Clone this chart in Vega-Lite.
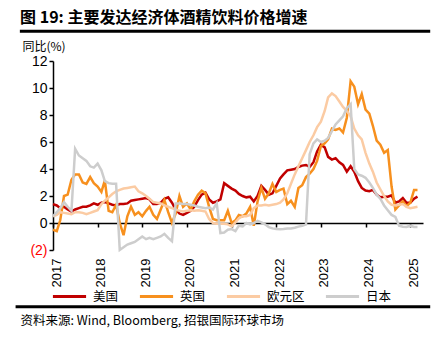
{
  "$schema": "https://vega.github.io/schema/vega-lite/v6.json",
  "width": 370,
  "height": 189,
  "autosize": {"type": "none"},
  "padding": {"left": 53, "top": 61, "right": 15, "bottom": 94},
  "background": "white",
  "title": {"text": "图 19: 主要发达经济体酒精饮料价格增速", "anchor": "start", "font": "Noto Sans CJK SC", "fontSize": 16, "fontWeight": "bold", "color": "black", "offset": 4, "dx": 6},
  "config": {"view": {"stroke": null}, "font": "Liberation Sans", "axis": {"labelOverlap": false}, "axisY": {"labelOverlap": false}},
  "layer": [
    {
      "data": {"values": [{}]},
      "mark": {"type": "rule", "clip": false, "color": "black", "strokeWidth": 3},
      "encoding": {
        "x": {"datum": {"year": 2016, "month": 4, "date": 5}, "type": "temporal"},
        "x2": {"datum": {"year": 2025, "month": 6, "date": 13}},
        "y": {"datum": 14.2, "type": "quantitative"}
      }
    },
    {
      "data": {"values": [{}]},
      "mark": {"type": "rule", "clip": false, "color": "black", "strokeWidth": 3},
      "encoding": {
        "x": {"datum": {"year": 2016, "month": 3, "date": 1}, "type": "temporal"},
        "x2": {"datum": {"year": 2025, "month": 6, "date": 13}},
        "y": {"datum": -6.2, "type": "quantitative"}
      }
    },
    {
      "data": {"values": [
        {"d":"2017-01-01","美国":1.4,"英国":-0.5,"欧元区":0.5,"日本":0.5},
        {"d":"2017-02-01","美国":1.3,"英国":-0.6,"欧元区":0.6,"日本":0.8},
        {"d":"2017-03-01","美国":1.1,"英国":0.2,"欧元区":0.8,"日本":1.1},
        {"d":"2017-04-01","美国":1.2,"英国":2.0,"欧元区":0.75,"日本":1.55},
        {"d":"2017-05-01","美国":1.0,"英国":2.1,"欧元区":0.7,"日本":1.2},
        {"d":"2017-06-01","美国":0.85,"英国":3.2,"欧元区":0.65,"日本":0.9},
        {"d":"2017-07-01","美国":1.0,"英国":3.6,"欧元区":0.8,"日本":5.5},
        {"d":"2017-08-01","美国":1.1,"英国":3.6,"欧元区":0.8,"日本":5.0},
        {"d":"2017-09-01","美国":1.2,"英国":3.0,"欧元区":0.75,"日本":4.8},
        {"d":"2017-10-01","美国":1.2,"英国":2.9,"欧元区":0.65,"日本":4.6},
        {"d":"2017-11-01","美国":1.3,"英国":3.4,"欧元区":0.75,"日本":4.2},
        {"d":"2017-12-01","美国":1.45,"英国":2.95,"欧元区":0.85,"日本":4.1},
        {"d":"2018-01-01","美国":1.35,"英国":2.7,"欧元区":0.95,"日本":4.4},
        {"d":"2018-02-01","美国":1.5,"英国":2.3,"欧元区":1.4,"日本":3.9},
        {"d":"2018-03-01","美国":1.55,"英国":3.15,"欧元区":1.65,"日本":3.1},
        {"d":"2018-04-01","美国":1.45,"英国":0.9,"欧元区":1.9,"日本":2.95},
        {"d":"2018-05-01","美国":1.35,"英国":0.8,"欧元区":2.15,"日本":2.9},
        {"d":"2018-06-01","美国":1.3,"英国":1.35,"欧元区":2.35,"日本":2.9},
        {"d":"2018-07-01","美国":1.4,"英国":0.0,"欧元区":2.45,"日本":-2.0},
        {"d":"2018-08-01","美国":1.4,"英国":-0.9,"欧元区":2.55,"日本":-1.8},
        {"d":"2018-09-01","美国":1.45,"英国":0.5,"欧元区":2.6,"日本":-1.6},
        {"d":"2018-10-01","美国":1.65,"英国":1.2,"欧元区":2.65,"日本":-1.5},
        {"d":"2018-11-01","美国":1.7,"英国":0.6,"欧元区":2.7,"日本":-1.4},
        {"d":"2018-12-01","美国":1.75,"英国":0.8,"欧元区":2.35,"日本":-1.2},
        {"d":"2019-01-01","美国":1.8,"英国":0.5,"欧元区":2.2,"日本":-1.0},
        {"d":"2019-02-01","美国":1.85,"英国":0.9,"欧元区":2.0,"日本":-1.2},
        {"d":"2019-03-01","美国":1.75,"英国":1.2,"欧元区":1.8,"日本":-1.1},
        {"d":"2019-04-01","美国":1.4,"英国":0.6,"欧元区":1.55,"日本":-1.2},
        {"d":"2019-05-01","美国":1.4,"英国":0.3,"欧元区":1.5,"日本":-1.1},
        {"d":"2019-06-01","美国":1.5,"英国":1.0,"欧元区":1.45,"日本":-1.0},
        {"d":"2019-07-01","美国":1.8,"英国":1.7,"欧元区":1.3,"日本":-0.8},
        {"d":"2019-08-01","美国":1.9,"英国":0.8,"欧元区":1.2,"日本":-1.1},
        {"d":"2019-09-01","美国":1.5,"英国":0.0,"欧元区":1.1,"日本":-1.35},
        {"d":"2019-10-01","美国":1.0,"英国":0.7,"欧元区":1.0,"日本":1.45},
        {"d":"2019-11-01","美国":0.7,"英国":2.0,"欧元区":0.9,"日本":1.45},
        {"d":"2019-12-01","美国":0.6,"英国":1.2,"欧元区":0.85,"日本":1.4},
        {"d":"2020-01-01","美国":0.75,"英国":1.45,"欧元区":0.9,"日本":1.4},
        {"d":"2020-02-01","美国":0.9,"英国":1.0,"欧元区":0.95,"日本":1.35},
        {"d":"2020-03-01","美国":1.2,"英国":1.6,"欧元区":0.9,"日本":1.3},
        {"d":"2020-04-01","美国":1.7,"英国":2.1,"欧元区":0.95,"日本":1.2},
        {"d":"2020-05-01","美国":2.1,"英国":2.4,"欧元区":0.9,"日本":1.15},
        {"d":"2020-06-01","美国":2.25,"英国":2.2,"欧元区":0.85,"日本":1.1},
        {"d":"2020-07-01","美国":1.75,"英国":1.2,"欧元区":0.3,"日本":1.15},
        {"d":"2020-08-01","美国":1.5,"英国":0.3,"欧元区":0.0,"日本":1.0},
        {"d":"2020-09-01","美国":1.6,"英国":0.2,"欧元区":-0.05,"日本":1.45},
        {"d":"2020-10-01","美国":1.75,"英国":0.2,"欧元区":-0.05,"日本":-0.75},
        {"d":"2020-11-01","美国":2.95,"英国":0.2,"欧元区":-0.05,"日本":-0.7},
        {"d":"2020-12-01","美国":2.75,"英国":0.9,"欧元区":-0.1,"日本":-0.5},
        {"d":"2021-01-01","美国":2.55,"英国":0.0,"欧元区":-0.25,"日本":-0.45},
        {"d":"2021-02-01","美国":2.4,"英国":0.2,"欧元区":0.05,"日本":-0.6},
        {"d":"2021-03-01","美国":2.15,"英国":0.6,"欧元区":0.35,"日本":-0.2},
        {"d":"2021-04-01","美国":2.0,"英国":0.5,"欧元区":0.5,"日本":-0.25},
        {"d":"2021-05-01","美国":1.9,"英国":0.7,"欧元区":0.5,"日本":0.0},
        {"d":"2021-06-01","美国":1.95,"英国":1.2,"欧元区":0.6,"日本":-0.1},
        {"d":"2021-07-01","美国":1.6,"英国":-0.2,"欧元区":1.1,"日本":0.0},
        {"d":"2021-08-01","美国":2.0,"英国":1.6,"欧元区":1.3,"日本":0.15},
        {"d":"2021-09-01","美国":2.75,"英国":2.6,"欧元区":1.3,"日本":0.05},
        {"d":"2021-10-01","美国":2.45,"英国":1.8,"欧元区":1.35,"日本":-0.1},
        {"d":"2021-11-01","美国":2.1,"英国":2.2,"欧元区":1.3,"日本":-0.3},
        {"d":"2021-12-01","美国":2.2,"英国":2.9,"欧元区":1.35,"日本":-0.4},
        {"d":"2022-01-01","美国":2.75,"英国":2.3,"欧元区":1.4,"日本":-0.45},
        {"d":"2022-02-01","美国":3.3,"英国":2.45,"欧元区":1.5,"日本":-0.47},
        {"d":"2022-03-01","美国":3.6,"英国":2.55,"欧元区":1.75,"日本":-0.45},
        {"d":"2022-04-01","美国":3.9,"英国":1.4,"欧元区":2.2,"日本":-0.4},
        {"d":"2022-05-01","美国":3.95,"英国":1.65,"欧元区":2.9,"日本":-0.4},
        {"d":"2022-06-01","美国":4.0,"英国":1.2,"欧元区":3.6,"日本":-0.35},
        {"d":"2022-07-01","美国":4.15,"英国":2.6,"欧元区":4.2,"日本":-0.27},
        {"d":"2022-08-01","美国":4.25,"英国":2.8,"欧元区":4.8,"日本":-0.2},
        {"d":"2022-09-01","美国":4.3,"英国":3.4,"欧元区":5.4,"日本":-0.1},
        {"d":"2022-10-01","美国":4.15,"英国":3.65,"欧元区":6.0,"日本":5.1},
        {"d":"2022-11-01","美国":4.5,"英国":4.0,"欧元区":6.5,"日本":5.9},
        {"d":"2022-12-01","美国":5.3,"英国":4.6,"欧元区":7.1,"日本":6.2},
        {"d":"2023-01-01","美国":5.8,"英国":5.7,"欧元区":7.5,"日本":6.0},
        {"d":"2023-02-01","美国":5.6,"英国":5.9,"欧元区":8.3,"日本":6.1},
        {"d":"2023-03-01","美国":4.9,"英国":6.2,"欧元区":9.3,"日本":6.3},
        {"d":"2023-04-01","美国":4.7,"英国":7.0,"欧元区":9.6,"日本":6.8},
        {"d":"2023-05-01","美国":4.8,"英国":6.9,"欧元区":9.4,"日本":7.3},
        {"d":"2023-06-01","美国":4.5,"英国":7.0,"欧元区":9.0,"日本":7.6},
        {"d":"2023-07-01","美国":4.3,"英国":6.7,"欧元区":8.6,"日本":7.9},
        {"d":"2023-08-01","美国":3.8,"英国":7.8,"欧元区":8.3,"日本":8.5},
        {"d":"2023-09-01","美国":4.2,"英国":10.5,"欧元区":7.9,"日本":8.8},
        {"d":"2023-10-01","美国":3.8,"英国":10.1,"欧元区":7.0,"日本":4.0},
        {"d":"2023-11-01","美国":3.1,"英国":8.8,"欧元区":6.5,"日本":3.6},
        {"d":"2023-12-01","美国":2.6,"英国":9.55,"欧元区":6.2,"日本":3.5},
        {"d":"2024-01-01","美国":2.4,"英国":8.4,"欧元区":5.2,"日本":3.35},
        {"d":"2024-02-01","美国":2.35,"英国":8.1,"欧元区":4.4,"日本":3.0},
        {"d":"2024-03-01","美国":2.45,"英国":7.2,"欧元区":3.8,"日本":2.6},
        {"d":"2024-04-01","美国":2.1,"英国":6.1,"欧元区":3.0,"日本":2.1},
        {"d":"2024-05-01","美国":1.9,"英国":5.8,"欧元区":2.5,"日本":1.8},
        {"d":"2024-06-01","美国":1.95,"英国":5.2,"欧元区":2.0,"日本":1.3},
        {"d":"2024-07-01","美国":1.95,"英国":5.4,"欧元区":1.6,"日本":0.95},
        {"d":"2024-08-01","美国":2.05,"英国":2.7,"欧元区":1.35,"日本":0.6},
        {"d":"2024-09-01","美国":1.5,"英国":1.0,"欧元区":1.3,"日本":0.45},
        {"d":"2024-10-01","美国":1.6,"英国":1.3,"欧元区":1.35,"日本":-0.2},
        {"d":"2024-11-01","美国":1.85,"英国":1.6,"欧元区":1.4,"日本":-0.27},
        {"d":"2024-12-01","美国":1.5,"英国":1.25,"欧元区":1.2,"日本":-0.3},
        {"d":"2025-01-01","美国":1.5,"英国":1.5,"欧元区":1.1,"日本":-0.2},
        {"d":"2025-02-01","美国":1.8,"英国":2.45,"欧元区":1.15,"日本":-0.3},
        {"d":"2025-03-01","美国":1.95,"英国":2.45,"欧元区":1.2,"日本":-0.3}
      ]},
      "transform": [{"fold": ["美国", "英国", "欧元区", "日本"], "as": ["s", "v"]}],
      "mark": {"type": "line", "strokeWidth": 2.5, "clip": false},
      "encoding": {
        "x": {
          "field": "d", "type": "temporal",
          "scale": {"domain": [{"year": 2017, "month": 1, "date": 1}, {"year": 2025, "month": 4, "date": 15}]},
          "axis": {
            "values": [{"year": 2017}, {"year": 2018}, {"year": 2019}, {"year": 2020}, {"year": 2021}, {"year": 2022}, {"year": 2023}, {"year": 2024}, {"year": 2025}],
            "format": "%Y", "labelAngle": -90, "labelAlign": "right", "labelBaseline": "middle",
            "labelPadding": 31, "labelOffset": 3, "offset": -27,
            "labelFontSize": 13, "labelColor": "black", "labelOverlap": false, "labelFlush": false, "labelBound": false,
            "domainColor": "black", "domainWidth": 1.5, "tickColor": "black", "tickWidth": 1.5, "tickSize": 4, "grid": false,
            "title": "资料来源: Wind, Bloomberg, 招银国际环球市场",
            "titleX": -33, "titleY": 101, "titleAlign": "left", "titleBaseline": "alphabetic", "titleAnchor": "start",
            "titleFont": "Noto Sans CJK SC", "titleFontSize": 12.5, "titleFontWeight": "normal", "titleColor": "black"
          }
        },
        "y": {
          "field": "v", "type": "quantitative",
          "scale": {"domain": [-2, 12], "nice": false},
          "axis": {
            "values": [-2, 0, 2, 4, 6, 8, 10, 12],
            "tickCount": 8,
            "labelExpr": "datum.value < 0 ? '(' + abs(datum.value) + ')' : '' + datum.value",
            "labelColor": {"condition": {"test": "datum.value < 0", "value": "#FF0000"}, "value": "black"},
            "labelFontSize": 14, "labelPadding": 2, "labelOverlap": false, "labelFlush": false, "labelBound": false,
            "domainColor": "black", "domainWidth": 1.5, "tickColor": "black", "tickWidth": 1.5, "tickSize": 4, "grid": false,
            "title": "同比(%)", "titleAngle": 0, "titleX": -31, "titleY": -11, "titleAlign": "left", "titleBaseline": "alphabetic",
            "titleFont": "Noto Sans CJK SC", "titleFontSize": 12, "titleFontWeight": "normal", "titleColor": "black"
          }
        },
        "color": {
          "field": "s", "type": "nominal",
          "scale": {"domain": ["美国", "英国", "欧元区", "日本"], "range": ["#C00000", "#F7901E", "#FBCBA3", "#CDCDCD"]},
          "legend": {
            "orient": "none", "legendX": -2, "legendY": 217, "direction": "horizontal", "columns": 4, "title": null,
            "gridAlign": "none",
            "symbolType": "stroke", "symbolStrokeWidth": 3, "symbolSize": 1100, "padding": 0,
            "labelFont": "Noto Sans CJK SC", "labelFontSize": 12.5, "labelOffset": 5, "columnPadding": 14, "labelColor": "black"
          }
        }
      }
    }
  ]
}
